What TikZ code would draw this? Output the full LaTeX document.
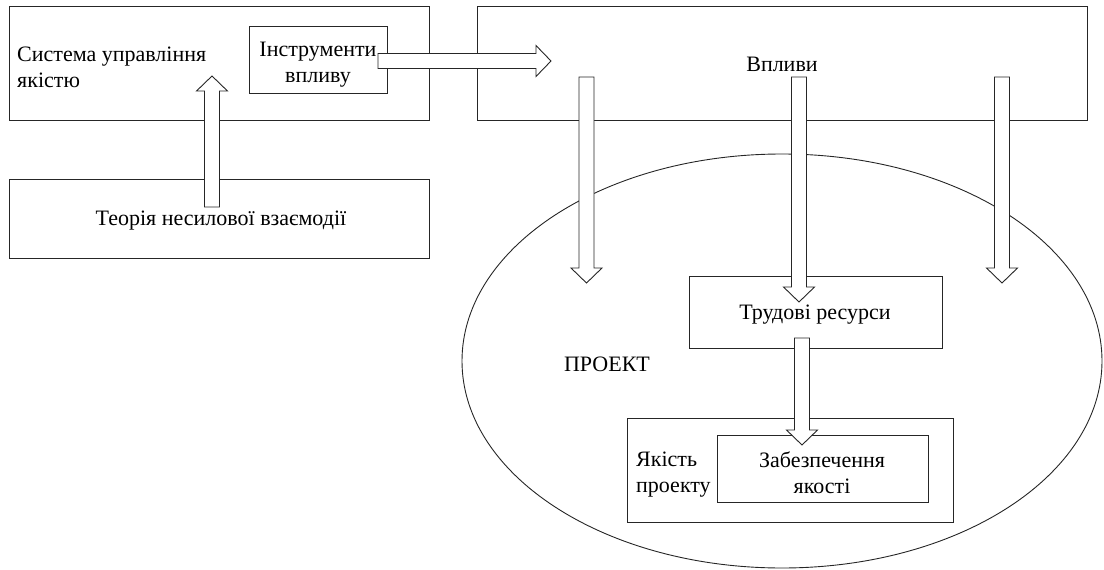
\documentclass[tikz,border=0pt]{standalone}
\usepackage{fontspec}
\setmainfont{Liberation Serif}
\usepackage{tikz}
\usetikzlibrary{calc,shapes.geometric}

\tikzset{
        box/.style={draw=black!85, line width=.9pt, inner sep=0pt, align=center},
        label/.style={inner sep=0pt, align=center},
        hollow/.style={draw=black!85, fill=white, line width=.9pt, to path={
                ($(\tikztostart)!7.5pt!90:(\tikztotarget)$)
                -- ($(\tikztotarget)!15pt!(\tikztostart)!7.5pt!-90:(\tikztostart)$)
                -- ($(\tikztotarget)!15pt!(\tikztostart)!15.5pt!-90:(\tikztostart)$)
                -- (\tikztotarget)
                -- ($(\tikztotarget)!15pt!(\tikztostart)!15.5pt!90:(\tikztostart)$)
                -- ($(\tikztotarget)!15pt!(\tikztostart)!7.5pt!90:(\tikztostart)$)
                -- ($(\tikztostart)!7.5pt!-90:(\tikztotarget)$) -- cycle}}
}

\begin{document}
\begin{tikzpicture}[x=1pt, y=-1pt, font=\fontsize{22}{26}\selectfont]
        \useasboundingbox (0,0) rectangle (1104,570);

        \node[box, minimum width=420pt, minimum height=114pt] (sys) at (219,63) {};
        \node[label, align=left, anchor=west] (systext) at (17,67) {Система управління\\якістю};

        \node[box, minimum width=138pt, minimum height=67pt] (tools) at (318,59.5) {};
        \node[label] (toolstext) at (318,65) {Інструменти\\впливу};

        \node[box, minimum width=420pt, minimum height=79pt] (theory) at (219,218.5) {};
        \node[label] (theorytext) at (221,221) {Теорія несилової взаємодії};

        \node[box, minimum width=610pt, minimum height=114pt] (infl) at (782,63) {};
        \node[label] (infltext) at (782,64) {Впливи};

        \node[box, ellipse, minimum width=640pt, minimum height=414pt] (proj) at (782,361) {};
        \node[label] (projtext) at (607,364) {ПРОЕКТ};

        \node[box, minimum width=253pt, minimum height=72pt] (labour) at (815.5,312) {};
        \node[label] (labourtext) at (815,315) {Трудові ресурси};

        \node[box, minimum width=326pt, minimum height=104pt] (quality) at (790,470) {};
        \node[label, align=left, anchor=west] (qualtext) at (636,475) {Якість\\проекту};
        \node[box, minimum width=211pt, minimum height=67pt] (ensure) at (822.5,468.5) {};
        \node[label] (ensuretext) at (822,473) {Забезпечення\\якості};

        \coordinate (upS) at (212,207);
        \coordinate (upT) at (212,76);
        \coordinate (rtS) at (378,61);
        \coordinate (rtT) at (551,61);
        \coordinate (dnaS) at (586.5,77);
        \coordinate (dnaT) at (586.5,283);
        \coordinate (dnbS) at (799,77);
        \coordinate (dnbT) at (799,302);
        \coordinate (dncS) at (1002,77);
        \coordinate (dncT) at (1002,283);
        \coordinate (dndS) at (802,338);
        \coordinate (dndT) at (802,445);

        \draw[hollow] (upS) to (upT);
        \draw[hollow] (rtS) to (rtT);
        \draw[hollow] (dnaS) to (dnaT);
        \draw[hollow] (dnbS) to (dnbT);
        \draw[hollow] (dncS) to (dncT);
        \draw[hollow] (dndS) to (dndT);
\end{tikzpicture}
\end{document}
